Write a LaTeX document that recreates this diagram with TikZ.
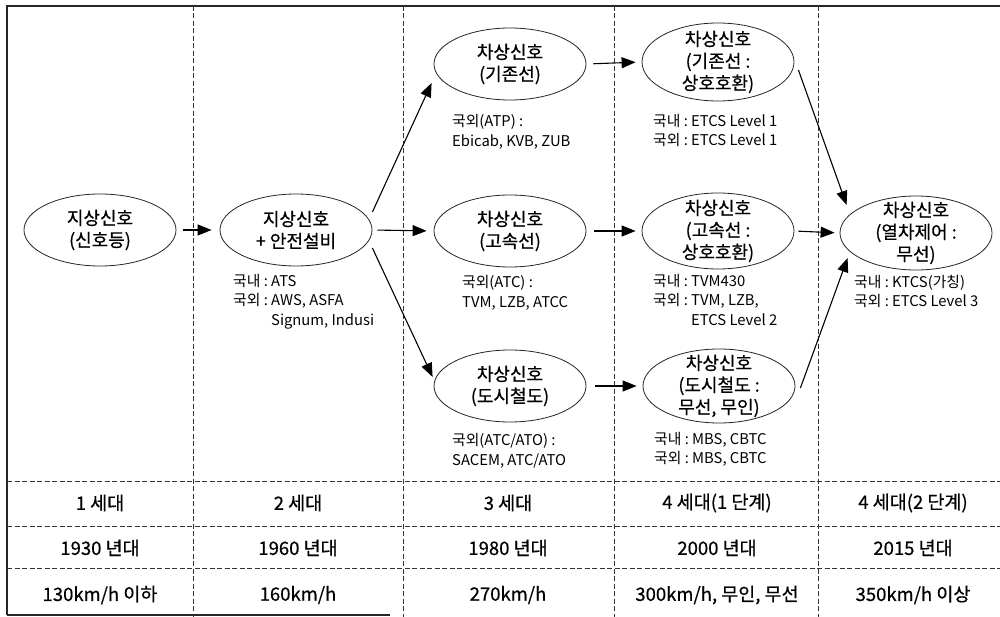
\documentclass[tikz,border=0pt]{standalone}
\usepackage{fontspec}
\setmainfont{Noto Sans CJK KR}
\newfontfamily\krb[FakeBold=0.5]{Noto Sans CJK KR}
\usetikzlibrary{shapes.geometric,arrows.meta}
\newcommand{\elfont}{\krb\fontsize{18}{22}\selectfont}
\newcommand{\smfont}{\fontsize{14.8}{19.5}\selectfont}
\newcommand{\rowfont}{\krb\fontsize{18.5}{22}\selectfont}
\tikzset{
  ell/.style={ellipse, draw=black!85, line width=0.8pt, minimum width=152pt,
    minimum height=72pt, inner sep=-16pt, align=center, font=\elfont},
  arr/.style={line width=1.1pt, -{Triangle[length=14pt,width=11pt]}},
  sepline/.style={line width=0.6pt, black!80, dash pattern=on 5pt off 2.5pt},
  frame/.style={line width=1.4pt, black!85},
  small/.style={anchor=west, inner sep=0pt, align=left, font=\smfont},
  rowtext/.style={inner sep=0pt, font=\rowfont}
}
\begin{document}
\begin{tikzpicture}[x=1pt,y=-1pt]
\useasboundingbox[fill=white] (0,0) rectangle (1000,617);
% frame
\draw[frame] (7,615) coordinate (bl) -- (7,6) coordinate (tl) -- (1000,6) coordinate (tr);
\draw[frame] (bl) -- (390,615) coordinate (br);
% separators
\foreach \x/\n in {193/a,403/b,614/c,818/d}
  \draw[sepline] (\x,6) coordinate (s\n t) -- (\x,617) coordinate (s\n b);
\foreach \y/\n in {481/a,526/b,568/c}
  \draw[sepline] (7,\y) coordinate (h\n l) -- (1000,\y) coordinate (h\n r);

% ellipses
\node[ell] (E1) at (100,230) {지상신호\\(신호등)};
\node[ell] (E2) at (296,230) {지상신호\\+ 안전설비};
\node[ell] (E3a) at (510,64) {차상신호\\(기존선)};
\node[ell] (E3b) at (510,231) {차상신호\\(고속선)};
\node[ell] (E3c) at (510,386) {차상신호\\(도시철도)};
\node[ell, minimum height=78pt] (E4a) at (718,62) {차상신호\\(기존선 :\\상호호환)};
\node[ell, minimum height=76pt] (E4b) at (718,231) {차상신호\\(고속선 :\\상호호환)};
\node[ell, minimum height=74pt] (E4c) at (719,386) {차상신호\\(도시철도 :\\무선, 무인)};
\node[ell, minimum height=74pt] (E5) at (916,233) {차상신호\\(열차제어 :\\무선)};

% small texts
\node[small] (T2) at (233,302) {\begin{tabular}{@{}l@{\ }l@{}}국내 :&ATS\\국외 :&AWS, ASFA\\&Signum, Indusi\end{tabular}};
\node[small] (T3a) at (452,132) {국외(ATP) :\\Ebicab, KVB, ZUB};
\node[small] (T3b) at (462,293) {국외(ATC) :\\TVM, LZB, ATCC};
\node[small] (T3c) at (452,451) {국외(ATC/ATO) :\\SACEM, ATC/ATO};
\node[small] (T4a) at (653,132) {\begin{tabular}{@{}l@{\ }l@{}}국내 :&ETCS Level 1\\국외 :&ETCS Level 1\end{tabular}};
\node[small] (T4b) at (653,302) {\begin{tabular}{@{}l@{\ }l@{}}국내 :&TVM430\\국외 :&TVM, LZB,\\&ETCS Level 2\end{tabular}};
\node[small] (T4c) at (654,450) {\begin{tabular}{@{}l@{\ }l@{}}국내 :&MBS, CBTC\\국외 :&MBS, CBTC\end{tabular}};
\node[small] (T5) at (854,293) {\begin{tabular}{@{}l@{\ }l@{}}국내 :&KTCS(가칭)\\국외 :&ETCS Level 3\end{tabular}};

% arrows
\draw[arr, shorten <=7pt, shorten >=8pt] (E1) -- (E2);
\draw[arr] ([yshift=18pt]E2.east) -- ([xshift=-2pt,yshift=-19pt]E3a.west);
\draw[arr, shorten <=5pt, shorten >=7pt] (E2.east) -- (E3b.west);
\draw[arr] ([yshift=-18pt]E2.east) -- ([xshift=-1pt,yshift=9pt]E3c.west);
\draw[arr, shorten <=7pt, shorten >=6pt] (E3a.east) -- (E4a.west);
\draw[arr, shorten <=8pt, shorten >=6pt] (E3b.east) -- (E4b.west);
\draw[arr, shorten <=9pt, shorten >=6pt] (E3c.east) -- (E4c.west);
\draw[arr] ([xshift=4pt,yshift=-8pt]E4a.east) -- ([xshift=7pt,yshift=28pt]E5.west);
\draw[arr, shorten <=4pt, shorten >=5pt] (E4b.east) -- (E5.west);
\draw[arr] ([xshift=5pt,yshift=-2pt]E4c.east) -- ([xshift=8pt,yshift=-25pt]E5.west);

% table rows
\foreach \x/\t/\n in {100/1 세대/a,298/2 세대/b,508/3 세대/c,717/4 세대(1 단계)/d,913/4 세대(2 단계)/e}
  \node[rowtext] (R1\n) at (\x,503) {\t};
\foreach \x/\t/\n in {100/1930 년대/a,298/1960 년대/b,508/1980 년대/c,717/2000 년대/d,913/2015 년대/e}
  \node[rowtext] (R2\n) at (\x,548) {\t};
\node[rowtext] (R3a) at (100,595) {130km/h 이하};
\node[rowtext] (R3b) at (298,595) {160km/h};
\node[rowtext] (R3c) at (508,595) {270km/h};
\node[rowtext] (R3d) at (717,595) {300km/h, 무인, 무선};
\node[rowtext] (R3e) at (913,595) {350km/h 이상};
\end{tikzpicture}
\end{document}
